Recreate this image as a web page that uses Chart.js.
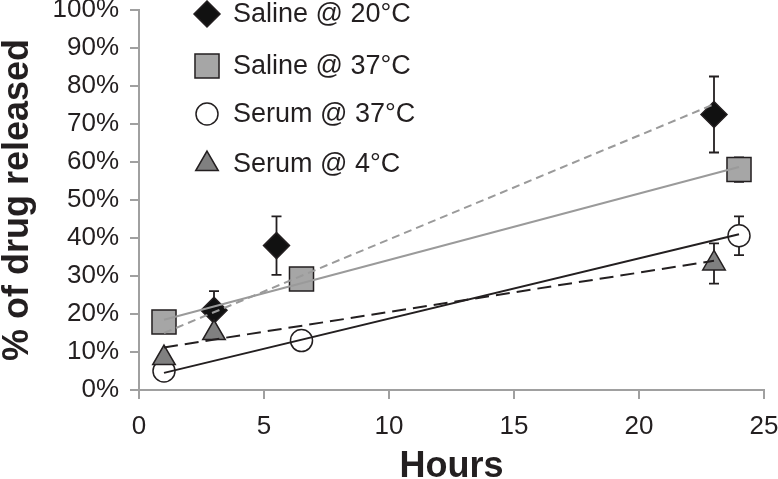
<!DOCTYPE html>
<html>
<head>
<meta charset="utf-8">
<script src="https://cdn.jsdelivr.net/npm/chart.js@4/dist/chart.umd.min.js"></script>
<style>
  body { margin: 0; background: #fff; }
  #wrap { width: 778px; height: 479px; }
</style>
</head>
<body>
<div id="wrap"><canvas id="myChart" width="778" height="479"></canvas></div>
<script>
// measured points (hours, % released, error +/-)
const hoursSaline20 = [3, 5.5, 23];
const releaseSaline20 = [21, 38, 72.5];
const errSaline20 = [5, 7.7, 10];

const hoursSaline37 = [1, 6.5, 24];
const releaseSaline37 = [17.9, 29.2, 58];
const errSaline37 = [0, 0, 3.2];

const hoursSerum37 = [1, 6.5, 24];
const releaseSerum37 = [5, 13, 40.6];
const errSerum37 = [0, 0, 5.1];

const hoursSerum4 = [1, 3, 23];
const releaseSerum4 = [8.4, 15, 33.3];
const errSerum4 = [0, 0, 5.3];

// linear trend lines, end points
const trendHoursSaline20 = [1, 23];
const trendSaline20 = [15, 75.2];
const trendHoursSaline37 = [1, 24];
const trendSaline37 = [18.5, 58.7];
const trendHoursSerum37 = [1, 24];
const trendSerum37 = [4.5, 41];
const trendHoursSerum4 = [1, 23];
const trendSerum4 = [11.2, 34];

const seriesLabels = ['Saline @ 20°C', 'Saline @ 37°C', 'Serum @ 37°C', 'Serum @ 4°C'];
const xTicks = [0, 5, 10, 15, 20, 25];
const yTicks = [0, 10, 20, 30, 40, 50, 60, 70, 80, 90, 100];

const FONT = '"Liberation Sans", Arial, sans-serif';
const TEXT = '#231f20';
const AXIS = '#a0a0a0';

function pts(xs, ys) {
    return xs.map((x, i) => ({ x: x, y: ys[i] }));
}

function markerSet(label, xs, ys, errs, style, radius, fill, order) {
    return {
        type: 'scatter',
        label: label,
        data: pts(xs, ys),
        errors: errs,
        showLine: false,
        pointStyle: style,
        pointRadius: radius,
        pointHoverRadius: radius,
        backgroundColor: fill,
        borderColor: '#231f20',
        borderWidth: 1.5,
        order: order
    };
}

function trendSet(xs, ys, color, dash) {
    return {
        type: 'line',
        label: 'trend',
        isTrend: true,
        data: pts(xs, ys),
        borderColor: color,
        borderWidth: 2,
        borderDash: dash,
        pointRadius: 0,
        fill: false,
        order: 0
    };
}

const datasets = [
    markerSet(seriesLabels[0], hoursSaline20, releaseSaline20, errSaline20, 'rectRot', 13, '#111111', 4),
    markerSet(seriesLabels[1], hoursSaline37, releaseSaline37, errSaline37, 'rect', 17, '#a6a6a6', 3),
    markerSet(seriesLabels[2], hoursSerum37, releaseSerum37, errSerum37, 'circle', 11, '#ffffff', 2),
    markerSet(seriesLabels[3], hoursSerum4, releaseSerum4, errSerum4, 'triangle', 13, '#808080', 1),
    trendSet(trendHoursSaline20, trendSaline20, '#9a9a9a', [8, 5]),
    trendSet(trendHoursSaline37, trendSaline37, '#9a9a9a', []),
    trendSet(trendHoursSerum37, trendSerum37, '#231f20', []),
    trendSet(trendHoursSerum4, trendSerum4, '#231f20', [14, 7])
];

// vertical error bars, drawn under the markers
const errorBars = {
    id: 'errorBars',
    beforeDatasetsDraw(chart) {
        const ctx = chart.ctx;
        const xs = chart.scales.x, ys = chart.scales.y;
        ctx.save();
        ctx.strokeStyle = '#231f20';
        ctx.lineWidth = 1.8;
        chart.data.datasets.forEach(ds => {
            if (!ds.errors) return;
            ds.data.forEach((p, i) => {
                const e = ds.errors[i];
                if (!e) return;
                const px = xs.getPixelForValue(p.x);
                const top = ys.getPixelForValue(p.y + e);
                const bot = ys.getPixelForValue(p.y - e);
                ctx.beginPath();
                ctx.moveTo(px, top); ctx.lineTo(px, bot);
                ctx.moveTo(px - 5, top); ctx.lineTo(px + 5, top);
                ctx.moveTo(px - 5, bot); ctx.lineTo(px + 5, bot);
                ctx.stroke();
            });
        });
        ctx.restore();
    }
};

// legend sits inside the plot, top left
const insideLegend = {
    id: 'insideLegend',
    afterDraw(chart) {
        const ctx = chart.ctx;
        const markers = chart.data.datasets.filter(d => !d.isTrend);
        const rowsY = [14, 66, 114, 164];
        ctx.save();
        ctx.font = '27px ' + FONT;
        ctx.textBaseline = 'middle';
        markers.forEach((ds, i) => {
            ctx.fillStyle = ds.backgroundColor;
            ctx.strokeStyle = ds.borderColor;
            ctx.lineWidth = ds.borderWidth;
            Chart.helpers.drawPoint(ctx, {
                pointStyle: ds.pointStyle,
                radius: ds.pointRadius,
                rotation: 0,
                borderWidth: ds.borderWidth
            }, 207, rowsY[i]);
            ctx.fillStyle = TEXT;
            ctx.fillText(ds.label, 233, rowsY[i] + 1);
        });
        ctx.restore();
    }
};

const ctx = document.getElementById('myChart').getContext('2d');
new Chart(ctx, {
    type: 'scatter',
    data: { datasets: datasets },
    plugins: [errorBars, insideLegend],
    options: {
        responsive: false,
        animation: false,
        layout: { autoPadding: false, padding: { top: 10, right: 14, left: 0, bottom: 0 } },
        plugins: {
            legend: { display: false },
            tooltip: { enabled: false }
        },
        scales: {
            x: {
                type: 'linear',
                min: 0,
                max: 25,
                afterBuildTicks: s => { s.ticks = xTicks.map(v => ({ value: v })); },
                ticks: { color: TEXT, font: { size: 26, family: FONT }, padding: 12, maxRotation: 0 },
                grid: { drawOnChartArea: false, drawTicks: true, tickLength: 9, color: AXIS, lineWidth: 2 },
                border: { color: AXIS, width: 2 },
                title: {
                    display: true, text: 'Hours', color: TEXT,
                    font: { size: 36, weight: 'bold', family: FONT, lineHeight: 0.65 },
                    padding: { top: 0, bottom: 0 }
                },
                afterFit: s => { s.height = 89; s.paddingLeft = 0; s.paddingRight = 0; }
            },
            y: {
                type: 'linear',
                min: 0,
                max: 100,
                afterBuildTicks: s => { s.ticks = yTicks.map(v => ({ value: v })); },
                ticks: { color: TEXT, font: { size: 26, family: FONT }, padding: 11, callback: v => v + '%' },
                grid: { drawOnChartArea: false, drawTicks: true, tickLength: 9, color: AXIS, lineWidth: 2 },
                border: { color: AXIS, width: 2 },
                title: {
                    display: true, text: '% of drug released', color: TEXT,
                    font: { size: 36, weight: 'bold', family: FONT, lineHeight: 1 },
                    padding: { top: 0, bottom: 0 }
                },
                afterFit: s => { s.width = 139; s.paddingTop = 0; s.paddingBottom = 0; }
            }
        }
    }
});
</script>
</body>
</html>
